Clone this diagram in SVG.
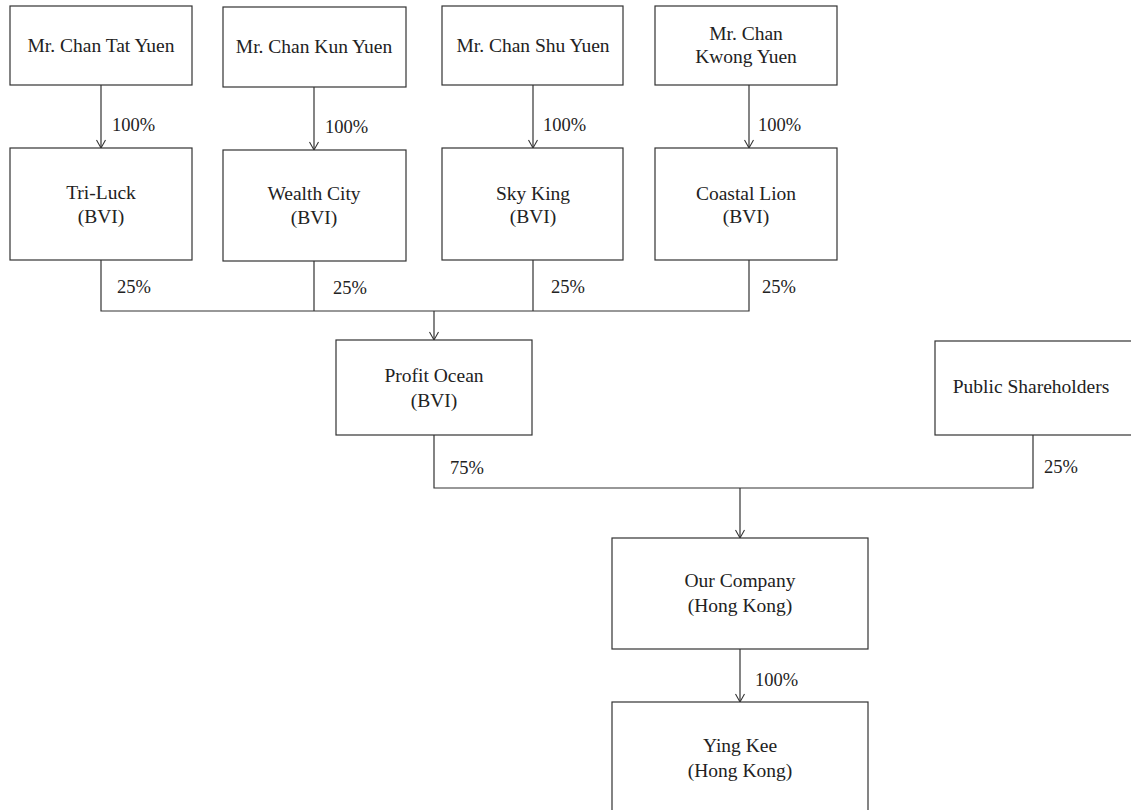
<svg xmlns="http://www.w3.org/2000/svg" width="1131" height="810" viewBox="0 0 1131 810">
<defs>
<marker id="ah" markerWidth="12" markerHeight="12" refX="10" refY="6" orient="auto" markerUnits="userSpaceOnUse" viewBox="0 0 12 12">
<path d="M2,1.5 L10,6 L2,10.5" fill="none" stroke="#333" stroke-width="1.1"/>
</marker>
</defs>
<style>
.box{fill:#fff;stroke:#333;stroke-width:1.2}
.t{font-family:"Liberation Serif","Times New Roman",serif;font-size:19.5px;fill:#222;text-anchor:middle}
.p{font-family:"Liberation Serif","Times New Roman",serif;font-size:18.5px;fill:#222}
.c{fill:none;stroke:#333;stroke-width:1.2}
</style>
<rect width="1131" height="810" fill="#fff"/>
<g id="connectors">
<path class="c" d="M101,85 V148" marker-end="url(#ah)"/>
<path class="c" d="M314,87 V150" marker-end="url(#ah)"/>
<path class="c" d="M533,85 V148" marker-end="url(#ah)"/>
<path class="c" d="M749,85 V148" marker-end="url(#ah)"/>
<path class="c" d="M101,260 V311 H749 V260 M314,261 V311 M533,260 V311"/>
<path class="c" d="M434,311 V340" marker-end="url(#ah)"/>
<path class="c" d="M434,435 V488 H1033 V435"/>
<path class="c" d="M740,488 V538" marker-end="url(#ah)"/>
<path class="c" d="M740,649 V702" marker-end="url(#ah)"/>
<text class="p" x="112" y="131">100%</text>
<text class="p" x="325" y="133">100%</text>
<text class="p" x="543" y="131">100%</text>
<text class="p" x="758" y="131">100%</text>
<text class="p" x="117" y="293">25%</text>
<text class="p" x="333" y="294">25%</text>
<text class="p" x="551" y="293">25%</text>
<text class="p" x="762" y="293">25%</text>
<text class="p" x="450" y="474">75%</text>
<text class="p" x="1044" y="473">25%</text>
<text class="p" x="755" y="686">100%</text>
</g>
<g id="n-tat"><rect class="box" x="10" y="6" width="182" height="79"/><text class="t" x="101" y="52">Mr. Chan Tat Yuen</text></g>
<g id="n-kun"><rect class="box" x="223" y="7" width="183" height="80"/><text class="t" x="314" y="53">Mr. Chan Kun Yuen</text></g>
<g id="n-shu"><rect class="box" x="442" y="6" width="181" height="79"/><text class="t" x="533" y="52">Mr. Chan Shu Yuen</text></g>
<g id="n-kwong"><rect class="box" x="655" y="6" width="182" height="79"/><text class="t" x="746" y="40">Mr. Chan</text><text class="t" x="746" y="63">Kwong Yuen</text></g>
<g id="n-triluck"><rect class="box" x="10" y="148" width="182" height="112"/><text class="t" x="101" y="199">Tri-Luck</text><text class="t" x="101" y="223">(BVI)</text></g>
<g id="n-wealth"><rect class="box" x="223" y="150" width="183" height="111"/><text class="t" x="314" y="200">Wealth City</text><text class="t" x="314" y="224">(BVI)</text></g>
<g id="n-sky"><rect class="box" x="442" y="148" width="181" height="112"/><text class="t" x="533" y="200">Sky King</text><text class="t" x="533" y="223">(BVI)</text></g>
<g id="n-coastal"><rect class="box" x="655" y="148" width="182" height="112"/><text class="t" x="746" y="200">Coastal Lion</text><text class="t" x="746" y="223">(BVI)</text></g>
<g id="n-profit"><rect class="box" x="336" y="340" width="196" height="95"/><text class="t" x="434" y="382">Profit Ocean</text><text class="t" x="434" y="407">(BVI)</text></g>
<g id="n-public"><rect class="box" x="935" y="341" width="210" height="94"/><text class="t" x="1031" y="393">Public Shareholders</text></g>
<g id="n-company"><rect class="box" x="612" y="538" width="256" height="111"/><text class="t" x="740" y="587">Our Company</text><text class="t" x="740" y="612">(Hong Kong)</text></g>
<g id="n-yingkee"><rect class="box" x="612" y="702" width="256" height="120"/><text class="t" x="740" y="752">Ying Kee</text><text class="t" x="740" y="777">(Hong Kong)</text></g>
</svg>
